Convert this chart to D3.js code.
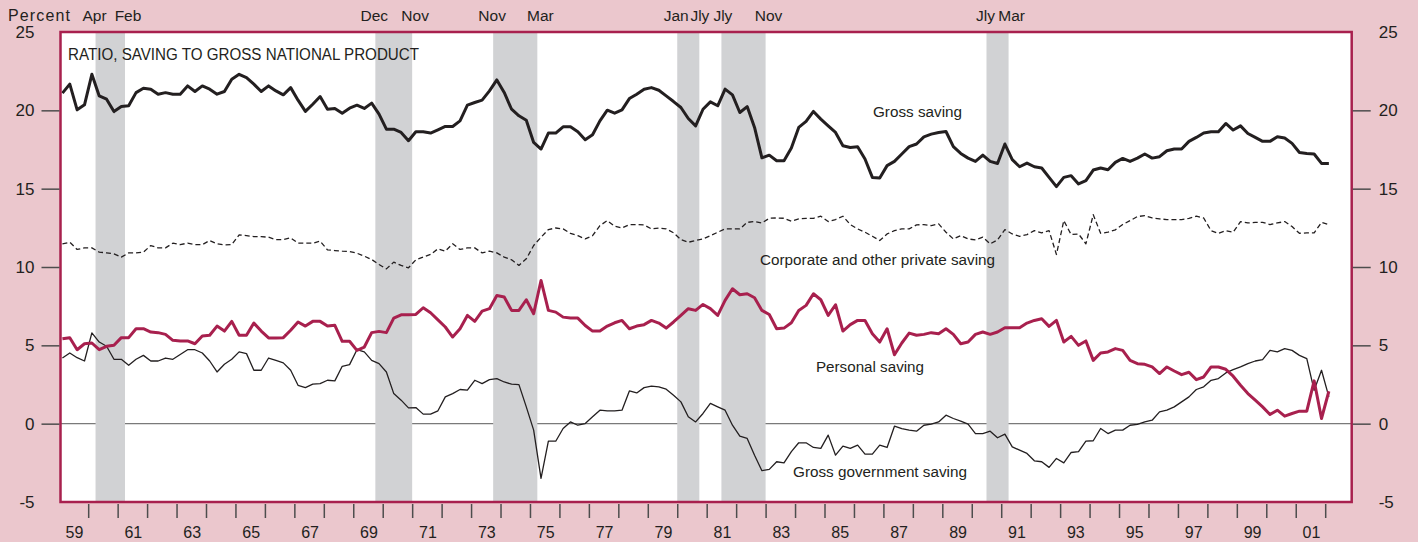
<!DOCTYPE html>
<html lang="en">
<head>
    <meta charset="UTF-8">
    <title>Ratio, saving to gross national product</title>
    <script src="https://d3js.org/d3.v7.min.js"></script>
    <style>
        body {
            margin: 0;
            background-color: #ebc7cd;
        }
        svg {
            display: block;
            font-family: "Liberation Sans", Arial, sans-serif;
            fill: #231f20;
        }
        .axis text {
            font-size: 17px;
            fill: #231f20;
        }
        .axis line {
            stroke: #4d4d4d;
            stroke-width: 1.5;
        }
        .axis path {
            display: none;
        }
    </style>
</head>
<body>
<svg width="1418" height="542"></svg>

<script>
    // quarterly data, 1959Q1 - 2002Q1 (percent of GNP)
    const startYear = 1959;

    const grossSaving = [
        21.1, 21.67, 20.03, 20.35, 22.3, 20.92, 20.71, 19.92, 20.24, 20.29, 21.13, 21.41, 21.35, 21.03, 21.13, 21.03, 21.03, 21.56, 21.2, 21.56, 21.35, 21.03, 21.2, 21.99, 22.3, 22.09, 21.67, 21.2, 21.56, 21.24,
        20.99, 21.45, 20.65, 19.93, 20.39, 20.88, 20.07, 20.12, 19.82, 20.14, 20.33, 20.12, 20.46, 19.76, 18.8, 18.8, 18.59, 18.06, 18.63, 18.63, 18.55, 18.76, 18.97, 18.97, 19.33, 20.33, 20.5, 20.65, 21.24, 21.94,
        21.14, 20.07, 19.65, 19.37, 17.95, 17.53, 18.55, 18.55, 18.95, 18.95, 18.63, 18.12, 18.44, 19.33, 20.01, 19.82, 20.03, 20.75, 21.03, 21.35, 21.45, 21.28, 20.92, 20.56, 20.18, 19.48, 19.01, 20.07, 20.54, 20.29,
        21.35, 20.99, 19.86, 20.24, 18.91, 16.97, 17.14, 16.78, 16.78, 17.59, 18.91, 19.29, 19.93, 19.44, 19.01, 18.59, 17.74, 17.63, 17.68, 16.89, 15.72, 15.68, 16.47, 16.74, 17.21, 17.68, 17.85, 18.31, 18.48, 18.59,
        18.65, 17.68, 17.25, 16.95, 16.74, 17.14, 16.74, 16.61, 17.85, 16.85, 16.4, 16.63, 16.4, 16.32, 15.72, 15.13, 15.72, 15.83, 15.3, 15.51, 16.19, 16.32, 16.21, 16.68, 16.93, 16.74, 16.95, 17.21, 16.95, 17.04,
        17.42, 17.53, 17.53, 18.02, 18.27, 18.55, 18.63, 18.63, 19.16, 18.74, 19.01, 18.52, 18.27, 18.02, 18.02, 18.31, 18.23, 17.89, 17.31, 17.25, 17.21, 16.61, 16.61
    ];

    const corporateSaving = [
        11.48, 11.58, 11.12, 11.22, 11.22, 10.95, 10.9, 10.84, 10.63, 10.9, 10.9, 10.95, 11.37, 11.22, 11.22, 11.52, 11.43, 11.52, 11.43, 11.43, 11.69, 11.48, 11.41, 11.43, 12.05, 12.0, 11.94, 11.94, 11.9, 11.75,
        11.75, 11.86, 11.52, 11.52, 11.52, 11.65, 11.09, 11.05, 11.01, 10.99, 10.88, 10.69, 10.48, 10.16, 9.88, 10.31, 10.1, 9.95, 10.46, 10.63, 10.8, 11.16, 11.01, 11.48, 11.12, 11.22, 11.22, 10.9, 11.01, 10.9,
        10.63, 10.46, 10.1, 10.52, 11.37, 11.9, 12.39, 12.49, 12.43, 12.15, 12.0, 11.79, 12.0, 12.64, 12.96, 12.6, 12.49, 12.71, 12.71, 12.69, 12.43, 12.49, 12.43, 12.18, 11.75, 11.58, 11.69, 11.79, 12.0, 12.22,
        12.43, 12.43, 12.43, 12.85, 12.9, 12.81, 13.11, 13.13, 13.11, 12.92, 13.07, 13.11, 13.11, 13.24, 12.9, 13.03, 13.24, 12.71, 12.43, 12.22, 11.96, 11.69, 12.11, 12.32, 12.43, 12.43, 12.69, 12.71, 12.64, 12.75,
        12.22, 11.79, 12.0, 11.79, 11.73, 11.9, 11.48, 11.73, 12.39, 12.11, 11.96, 12.07, 12.32, 12.18, 12.32, 10.8, 12.96, 12.07, 12.11, 11.48, 13.34, 12.15, 12.22, 12.37, 12.71, 12.96, 13.22, 13.28, 13.13, 13.07,
        13.03, 13.03, 13.03, 13.11, 13.24, 13.13, 12.32, 12.15, 12.32, 12.22, 12.9, 12.81, 12.85, 12.85, 12.71, 12.81, 12.9, 12.58, 12.15, 12.18, 12.18, 12.85, 12.71
    ];

    const personalSaving = [
        5.42, 5.49, 4.72, 5.1, 5.15, 4.72, 4.94, 5.0, 5.49, 5.49, 6.06, 6.06, 5.85, 5.81, 5.7, 5.32, 5.28, 5.28, 5.1, 5.6, 5.64, 6.23, 5.91, 6.53, 5.64, 5.64, 6.42, 5.91, 5.47, 5.47,
        5.49, 5.96, 6.49, 6.23, 6.53, 6.53, 6.23, 6.28, 5.26, 5.26, 4.68, 4.89, 5.81, 5.89, 5.81, 6.74, 6.95, 6.95, 6.97, 7.4, 7.08, 6.63, 6.17, 5.53, 6.06, 6.91, 6.53, 7.18, 7.34, 8.18,
        8.08, 7.23, 7.23, 7.91, 7.02, 9.14, 7.23, 7.12, 6.8, 6.74, 6.74, 6.27, 5.91, 5.91, 6.23, 6.44, 6.59, 6.06, 6.23, 6.32, 6.59, 6.42, 6.1, 6.49, 6.91, 7.34, 7.23, 7.61, 7.34, 6.91,
        7.87, 8.61, 8.23, 8.29, 8.04, 7.23, 6.97, 6.06, 6.1, 6.44, 7.23, 7.55, 8.29, 7.91, 6.91, 7.59, 5.91, 6.32, 6.59, 6.59, 5.74, 5.21, 6.06, 4.4, 5.15, 5.78, 5.64, 5.7, 5.81, 5.74,
        6.06, 5.7, 5.1, 5.21, 5.7, 5.85, 5.7, 5.85, 6.12, 6.12, 6.12, 6.42, 6.59, 6.7, 6.21, 6.59, 5.21, 5.57, 5.0, 5.28, 4.04, 4.51, 4.58, 4.79, 4.68, 4.04, 3.83, 3.79, 3.62, 3.2,
        3.62, 3.36, 3.13, 3.28, 2.81, 2.98, 3.62, 3.62, 3.47, 3.03, 2.45, 1.92, 1.5, 1.07, 0.58, 0.86, 0.48, 0.65, 0.8, 0.8, 2.73, 0.33, 2.07
    ];

    const governmentSaving = [
        4.19, 4.51, 4.21, 4.0, 5.8, 5.21, 4.94, 4.11, 4.11, 3.73, 4.11, 4.36, 4.0, 4.0, 4.19, 4.11, 4.41, 4.72, 4.72, 4.51, 4.0, 3.3, 3.79, 4.11, 4.58, 4.47, 3.41, 3.41, 4.19, 4.04,
        3.88, 3.41, 2.45, 2.3, 2.52, 2.56, 2.77, 2.73, 3.66, 3.77, 4.72, 4.58, 4.04, 3.83, 3.3, 1.92, 1.5, 1.01, 1.03, 0.61, 0.61, 0.82, 1.71, 1.92, 2.18, 2.14, 2.77, 2.56, 2.81, 2.88,
        2.66, 2.52, 2.49, 1.07, -0.41, -3.49, -1.12, -1.12, -0.31, 0.11, -0.1, 0.01, 0.44, 0.86, 0.82, 0.82, 0.86, 2.09, 1.96, 2.3, 2.39, 2.35, 2.2, 1.82, 1.39, 0.44, 0.11, 0.65, 1.29, 1.07,
        0.86, -0.1, -0.8, -0.94, -2.01, -3.0, -2.92, -2.43, -2.5, -1.79, -1.22, -1.22, -1.52, -1.58, -0.73, -2.01, -1.43, -1.58, -1.37, -1.94, -1.94, -1.37, -1.52, -0.16, -0.31, -0.41, -0.48, -0.1, -0.03, 0.11,
        0.54, 0.33, 0.16, -0.03, -0.63, -0.63, -0.48, -0.9, -0.67, -1.48, -1.69, -1.9, -2.37, -2.43, -2.79, -2.22, -2.5, -1.84, -1.79, -1.11, -1.09, -0.31, -0.63, -0.41, -0.41, -0.1, -0.05, 0.11, 0.22, 0.75,
        0.86, 1.07, 1.39, 1.71, 2.18, 2.35, 2.77, 2.88, 3.24, 3.45, 3.62, 3.83, 4.0, 4.09, 4.68, 4.58, 4.79, 4.68, 4.36, 4.15, 2.13, 3.41, 1.71
    ];

    // recessions (start / end as fractional years) and their month labels
    const recStart = [1960.25, 1969.75, 1973.75, 1980.0, 1981.5, 1990.5];
    const recEnd = [1961.25, 1971.0, 1975.25, 1980.75, 1983.0, 1991.25];
    const recStartLabel = ["Apr", "Dec", "Nov", "Jan", "Jly", "Jly"];
    const recEndLabel = ["Feb", "Nov", "Mar", "Jly", "Nov", "Mar"];

    const yTicks = [-5, 0, 5, 10, 15, 20, 25];
    const yearTicks = d3.range(1960, 2003);
    const yearLabels = d3.range(1959, 2002, 2);

    const plot = {left: 60.5, top: 32, right: 1351.7, bottom: 502};
    const crimson = "#a8204e";
    const ink = "#231f20";

    const svg = d3.select("svg");

    const x = d3.scaleLinear()
        .domain([1959.06, 2002.9])
        .range([plot.left, plot.right]);

    const y = d3.scaleLinear()
        .domain([-5, 25])
        .range([plot.bottom, plot.top]);

    const quarterTime = i => startYear + i * 0.25 + 0.125;

    // plot area
    svg.append("rect")
        .attr("x", plot.left)
        .attr("y", plot.top)
        .attr("width", plot.right - plot.left)
        .attr("height", plot.bottom - plot.top)
        .attr("fill", "#fff");

    // zero line
    svg.append("line")
        .attr("x1", plot.left)
        .attr("x2", plot.right)
        .attr("y1", y(0))
        .attr("y2", y(0))
        .attr("stroke", "#7a7a7a")
        .attr("stroke-width", 1.2);

    // recession bands
    svg.selectAll(".band")
        .data(recStart)
        .enter()
        .append("rect")
        .attr("class", "band")
        .attr("x", d => x(d))
        .attr("width", (d, i) => x(recEnd[i]) - x(d))
        .attr("y", plot.top)
        .attr("height", plot.bottom - plot.top)
        .attr("fill", "#d1d2d4");

    // month labels above the bands, pushed apart where they would touch
    const monthLabels = [];
    recStart.forEach((d, i) => {
        monthLabels.push({text: recStartLabel[i], cx: x(d) - 1});
        monthLabels.push({text: recEndLabel[i], cx: x(recEnd[i]) + 3});
    });
    monthLabels.sort((a, b) => a.cx - b.cx);
    const minGap = 23;
    for (let i = 1; i < monthLabels.length; i++) {
        const gap = monthLabels[i].cx - monthLabels[i - 1].cx;
        if (gap < minGap) {
            const shift = (minGap - gap) / 2;
            monthLabels[i - 1].cx -= shift;
            monthLabels[i].cx += shift;
        }
    }

    svg.selectAll(".monthLabel")
        .data(monthLabels)
        .enter()
        .append("text")
        .attr("class", "monthLabel")
        .attr("x", d => d.cx)
        .attr("y", 21)
        .attr("text-anchor", "middle")
        .style("font-size", "15.5px")
        .text(d => d.text);

    // series
    const line = d3.line()
        .x((d, i) => x(quarterTime(i)))
        .y(d => y(d));

    const series = [
        {values: corporateSaving, color: ink, width: 1.3, dash: "5,3"},
        {values: governmentSaving, color: ink, width: 1.3, dash: null},
        {values: personalSaving, color: crimson, width: 3, dash: null},
        {values: grossSaving, color: ink, width: 3, dash: null}
    ];

    series.forEach(s => {
        svg.append("path")
            .datum(s.values)
            .attr("fill", "none")
            .attr("stroke", s.color)
            .attr("stroke-width", s.width)
            .attr("stroke-linejoin", "round")
            .attr("stroke-dasharray", s.dash)
            .attr("d", line);
    });

    // frame
    svg.append("rect")
        .attr("x", plot.left)
        .attr("y", plot.top)
        .attr("width", plot.right - plot.left)
        .attr("height", plot.bottom - plot.top)
        .attr("fill", "none")
        .attr("stroke", crimson)
        .attr("stroke-width", 2.5);

    // y axes, left and right (plain hyphen for negatives)
    const plainNumber = d => String(d).replace("\u2212", "-");

    const leftAxis = svg.append("g")
        .attr("class", "axis")
        .attr("transform", `translate(${plot.left - 1}, 0)`)
        .call(d3.axisLeft(y).tickValues(yTicks).tickSize(18).tickPadding(7).tickFormat(plainNumber));

    const rightAxis = svg.append("g")
        .attr("class", "axis")
        .attr("transform", `translate(${plot.right + 1}, 0)`)
        .call(d3.axisRight(y).tickValues(yTicks).tickSize(18).tickPadding(8).tickFormat(plainNumber));

    [leftAxis, rightAxis].forEach(g => {
        g.selectAll(".tick")
            .filter(d => d === 25 || d === -5)
            .select("line")
            .remove();
    });

    // x axis: year ticks, labels in the middle of odd years
    svg.append("g")
        .attr("class", "axis")
        .attr("transform", `translate(0, ${plot.bottom + 2})`)
        .call(d3.axisBottom(x).tickValues(yearTicks).tickSize(14).tickFormat(""));

    svg.selectAll(".yearLabel")
        .data(yearLabels)
        .enter()
        .append("text")
        .attr("x", d => x(d + 0.5) + 1)
        .attr("y", 538)
        .attr("text-anchor", "middle")
        .style("font-size", "16px")
        .text(d => d3.format("02")(d % 100));

    // titles and series labels
    svg.append("text")
        .attr("x", 8)
        .attr("y", 21)
        .attr("textLength", 62)
        .style("font-size", "16px")
        .text("Percent");

    svg.append("text")
        .attr("x", 68)
        .attr("y", 60)
        .attr("textLength", 351)
        .attr("lengthAdjust", "spacingAndGlyphs")
        .style("font-size", "16px")
        .text("RATIO, SAVING TO GROSS NATIONAL PRODUCT");

    const seriesLabels = [
        {text: "Gross saving", x: 873, y: 116.5, w: 89},
        {text: "Corporate and other private saving", x: 760, y: 264.5, w: 235},
        {text: "Personal saving", x: 816, y: 371.5, w: 108},
        {text: "Gross government saving", x: 793, y: 476.5, w: 174}
    ];

    seriesLabels.forEach(l => {
        svg.append("text")
            .attr("x", l.x)
            .attr("y", l.y)
            .attr("textLength", l.w)
            .attr("lengthAdjust", "spacingAndGlyphs")
            .style("font-size", "15.5px")
            .text(l.text);
    });
</script>
</body>
</html>
